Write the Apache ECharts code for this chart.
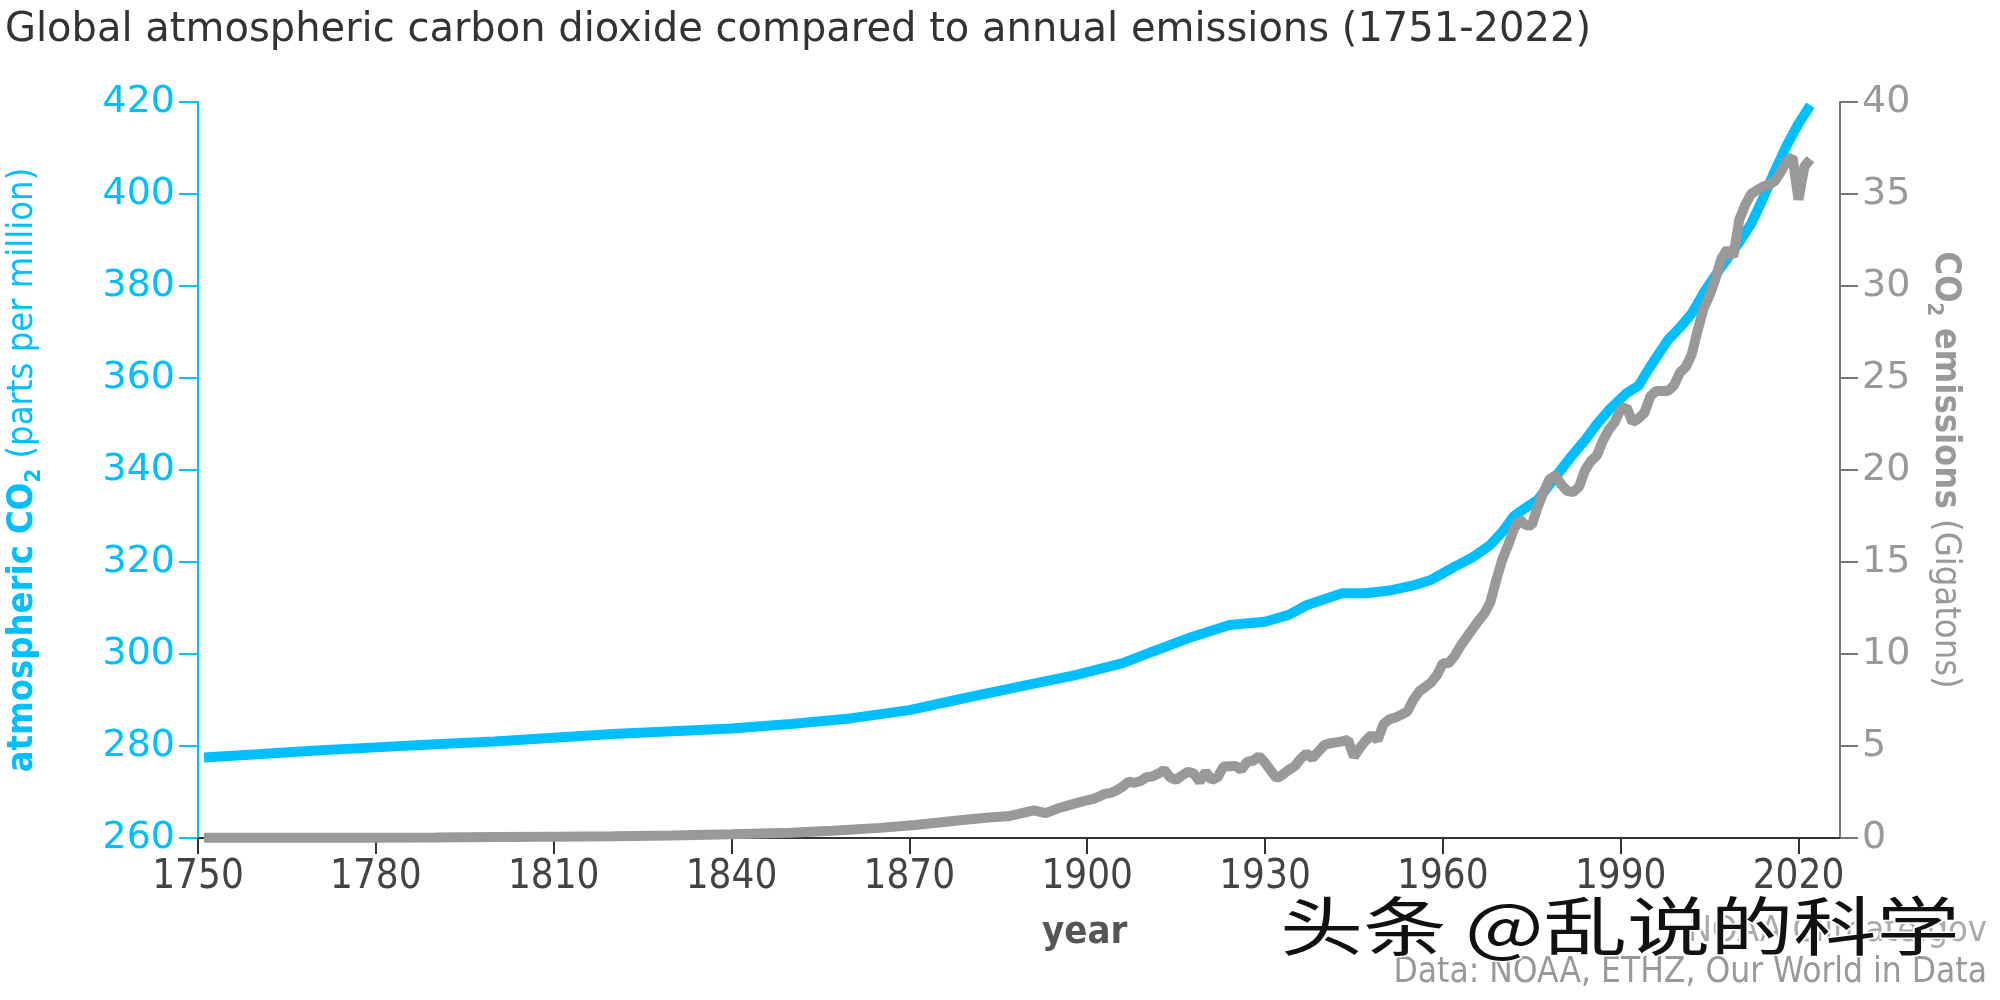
<!DOCTYPE html>
<html><head><meta charset="utf-8">
<script src="https://cdn.jsdelivr.net/npm/echarts@6/dist/echarts.min.js"></script>
<style>html,body{margin:0;padding:0;background:#fff}#c{width:2000px;height:1000px}</style>
</head><body><div id="c"></div>
<script>
// Atmospheric CO2 (ppm)
const co2Years = [1751,1760,1770,1780,1790,1800,1810,1820,1830,1840,1850,1860,1870,1880,1890,1898,1906,1911,1917,1924,1930,1934,1937,1943,1947,1951,1955,1958,1962,1965,1968,1970,1972,1974,1976,1979,1982,1984,1986,1988,1991,1993,1995,1998,2000,2002,2004,2007,2010,2012,2014,2016,2018,2020,2022];
const co2Ppm = [277.5,278.2,279.0,279.7,280.4,281.0,281.8,282.6,283.2,283.8,284.8,286.0,287.8,290.6,293.3,295.4,298.0,300.5,303.4,306.3,307.0,308.5,310.6,313.2,313.2,313.8,314.9,316.1,319.0,321.0,323.7,326.5,330.0,331.8,333.5,338.5,343.5,346.5,350.0,353.0,356.7,358.3,362.5,368.3,371.0,374.0,378.5,384.2,389.5,393.5,399.0,405.0,410.5,415.3,419.3];

// Annual CO2 emissions (Gt)
const emYears = [1751,1760,1770,1780,1790,1800,1810,1820,1830,1840,1850,1857,1865,1871,1879,1883,1887,1891,1893,1895,1898,
  1900,1901,1902,1903,1904,1905,1906,1907,1908,1909,
  1910,1911,1912,1913,1914,1915,1916,1917,1918,1919,
  1920,1921,1922,1923,1924,1925,1926,1927,1928,1929,
  1930,1931,1932,1933,1934,1935,1936,1937,1938,1939,
  1940,1941,1942,1943,1944,1945,1946,1947,1948,1949,
  1950,1951,1952,1953,1954,1955,1956,1957,1958,1959,
  1960,1961,1962,1963,1964,1965,1966,1967,1968,1969,
  1970,1971,1972,1973,1974,1975,1976,1977,1978,1979,
  1980,1981,1982,1983,1984,1985,1986,1987,1988,1989,
  1990,1991,1992,1993,1994,1995,1996,1997,1998,1999,
  2000,2001,2002,2003,2004,2005,2006,2007,2008,2009,
  2010,2011,2012,2013,2014,2015,2016,2017,2018,2019,
  2020,2021,2022];
const emGt = [0.01,0.01,0.015,0.02,0.03,0.05,0.07,0.09,0.13,0.2,0.28,0.4,0.55,0.71,0.98,1.1,1.2,1.5,1.35,1.6,1.88,
  2.05,2.12,2.25,2.4,2.45,2.6,2.79,3.06,3.0,3.1,
  3.3,3.35,3.5,3.7,3.3,3.15,3.4,3.6,3.5,3.06,
  3.6,3.15,3.3,3.88,3.9,3.92,3.7,4.15,4.2,4.45,
  4.1,3.65,3.24,3.45,3.7,3.9,4.3,4.6,4.33,4.7,
  5.05,5.15,5.2,5.25,5.33,4.42,4.9,5.3,5.6,5.33,
  6.2,6.45,6.55,6.7,6.87,7.5,7.96,8.2,8.45,8.85,
  9.5,9.5,9.9,10.45,10.9,11.35,11.8,12.2,12.8,14.0,
  15.1,15.9,16.8,17.3,17.0,17.0,18.0,18.8,19.5,19.7,
  19.2,18.85,18.8,19.1,20.0,20.5,20.8,21.6,22.2,22.6,
  23.3,23.4,22.6,22.8,23.1,24.0,24.3,24.3,24.3,24.6,
  25.3,25.6,26.3,27.6,28.8,29.5,30.4,31.5,32.0,31.6,
  33.6,34.4,35.0,35.2,35.4,35.5,35.7,36.2,36.8,37.0,
  34.7,36.5,36.9];

const xTickYears = [1750,1780,1810,1840,1870,1900,1930,1960,1990,2020];

const BLUE = '#00BFFF', GRAY = '#999999';
const narrow = "'Liberation Sans Narrow','DejaVu Sans Condensed',sans-serif";
const wide = "'DejaVu Sans',sans-serif";

const chart = echarts.init(document.getElementById('c'), null, {renderer:'canvas'});
chart.setOption({
  backgroundColor:'#fff',
  animation:false,
  title:{
    text:'Global atmospheric carbon dioxide compared to annual emissions (1751-2022)',
    left:0, top:6,
    textStyle:{fontFamily:wide, fontSize:40, fontWeight:'normal', color:'#333'}
  },
  grid:{left:198, right:160, top:102, bottom:162, containLabel:false, outerBoundsMode:'none'},
  xAxis:{
    type:'value', min:1750, max:2027,
    axisLine:{show:true, lineStyle:{color:'#333', width:2}},
    axisTick:{show:true, length:16, lineStyle:{color:'#333', width:2}, customValues:xTickYears},
    axisLabel:{margin:20, color:'#444', fontFamily:narrow, fontSize:40, customValues:xTickYears, formatter:v=>String(v)},
    splitLine:{show:false}
  },
  yAxis:[{
    type:'value', min:260, max:420, interval:20, position:'left',
    axisLine:{show:true, lineStyle:{color:BLUE, width:2}},
    axisTick:{show:true, length:19, lineStyle:{color:BLUE, width:2}},
    axisLabel:{margin:23, color:BLUE, fontFamily:wide, fontSize:38},
    splitLine:{show:false},
    name:'{b|atmospheric CO}{s|2}{n| (parts per million)}',
    nameLocation:'middle', nameRotate:90, nameGap:153,
    nameTextStyle:{
      color:BLUE, fontFamily:narrow, fontSize:36,
      rich:{
        b:{fontWeight:'bold', fontFamily:narrow, fontSize:36, color:BLUE, lineHeight:44},
        s:{fontWeight:'bold', fontFamily:narrow, fontSize:22, color:BLUE, verticalAlign:'bottom', lineHeight:22},
        n:{fontWeight:'normal', fontFamily:narrow, fontSize:36, color:BLUE, lineHeight:44}
      }
    }
  },{
    type:'value', min:0, max:40, interval:5, position:'right',
    axisLine:{show:true, lineStyle:{color:'#777', width:2}},
    axisTick:{show:true, length:18, lineStyle:{color:'#777', width:2}},
    axisLabel:{margin:22, color:GRAY, fontFamily:wide, fontSize:38},
    splitLine:{show:false},
    name:'{b|CO}{s|2}{b| emissions}{n| (Gigatons)}',
    nameLocation:'middle', nameRotate:-90, nameGap:83,
    nameTextStyle:{
      color:GRAY, fontFamily:narrow, fontSize:36,
      rich:{
        b:{fontWeight:'bold', fontFamily:narrow, fontSize:36, color:GRAY, lineHeight:44},
        s:{fontWeight:'bold', fontFamily:narrow, fontSize:22, color:GRAY, verticalAlign:'bottom', lineHeight:22},
        n:{fontWeight:'normal', fontFamily:narrow, fontSize:36, color:GRAY, lineHeight:44}
      }
    }
  }],
  series:[{
    name:'atmospheric CO2', type:'line', yAxisIndex:0, showSymbol:false, symbol:'none',
    lineStyle:{color:BLUE, width:10},
    data:co2Years.map((y,i)=>[y, co2Ppm[i]])
  },{
    name:'CO2 emissions', type:'line', yAxisIndex:1, showSymbol:false, symbol:'none',
    lineStyle:{color:GRAY, width:10},
    data:emYears.map((y,i)=>[y, emGt[i]])
  }],
  graphic:[
    {type:'text', left:1042, top:914, style:{text:'year', fontFamily:narrow, fontSize:38, fontWeight:'bold', fill:'#555'}},
    {type:'text', right:13, top:914, style:{text:'NOAA Climate.gov', fontFamily:narrow, fontSize:36, fill:'#aaa', textAlign:'right'}},
    {type:'text', right:13, top:955, style:{text:'Data: NOAA, ETHZ, Our World in Data', fontFamily:narrow, fontSize:35, fill:'#999', textAlign:'right'}},
    {type:'text', x:1280, y:894, scaleX:1.3, originX:0, style:{text:'头条 @乱说的科学', fontFamily:"'Noto Sans CJK SC',sans-serif", fontSize:64, fill:'#111', stroke:'#fff', lineWidth:3}}
  ]
});
</script>
</body></html>
